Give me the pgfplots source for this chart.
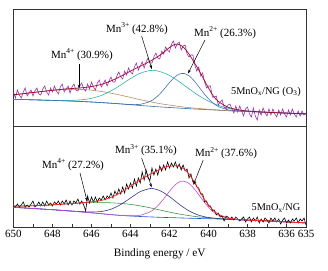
\documentclass[border=0pt]{standalone}
\usepackage{fontspec}
\setmainfont{Liberation Serif}
\usepackage{pgfplots}
\pgfplotsset{compat=1.18}
\usetikzlibrary{arrows.meta}
\definecolor{tdata}{HTML}{9B30B0}
\definecolor{tenv}{HTML}{A0102A}
\definecolor{tmnf}{HTML}{B89060}
\definecolor{tmnt}{HTML}{30B0B0}
\definecolor{tmnb}{HTML}{4070C0}
\definecolor{tbg}{HTML}{2F6F9F}
\definecolor{benv}{HTML}{FF2020}
\definecolor{bmnf}{HTML}{3A9A3A}
\definecolor{bmnt}{HTML}{33338F}
\definecolor{bmnb}{HTML}{C050D0}
\definecolor{bbg}{HTML}{2050D0}
\newcommand{\fs}{\fontsize{11}{13}\selectfont}
\newcommand{\chg}[1]{\raisebox{0.42em}{\fontsize{7.5}{8}\selectfont #1}}
\tikzset{
 ann/.style={font=\fs},
 arr/.style={-{Stealth[length=4pt,width=2.6pt]}, line width=0.5pt, black}
}
\begin{document}
\begin{tikzpicture}
\pgfplotsset{
 panel/.style={scale only axis, width=292.5pt, x dir=reverse, xmin=635, xmax=650, ymin=0,
   axis line style={color=black!80, line width=0.8pt}, ytick=\empty,
   tick label style={font=\fs},
   /pgf/number format/assume math mode=true},
 cv/.style={smooth, no markers, line width=0.6pt},
 dt/.style={no markers, line width=0.6pt}
}
% ---------------- top panel ----------------
\begin{axis}[panel, at={(13.5pt,144pt)}, anchor=south west, height=117pt, ymax=117, xtick=\empty]
\addplot[cv, tbg] coordinates {(650,26.7)(649.5,26.45)(649,26.2)(648.5,25.9)(648,25.6)(647.5,25.3)(647,25.0)(646.5,24.5)(646,24.0)(645.5,23.4)(645,22.8)(644.5,22.1)(644,21.3)(643.5,20.5)(643,19.8)(642.5,19.1)(642,18.5)(641.5,17.9)(641,17.3)(640.5,16.8)(640,16.3)(639.5,15.8)(639,15.3)(638.5,14.9)(638,14.5)(637.5,14.1)(637,13.7)(636.5,13.3)(636,12.9)(635.5,12.5)(635,12.1)};
\addplot[cv, tmnf] coordinates {(650,31.2)(649.5,32.3)(649,33.5)(648.5,34.6)(648,35.6)(647.5,36.4)(647,36.8)(646.5,36.5)(646,35.8)(645.5,34.5)(645,32.8)(644.5,30.8)(644,28.6)(643.5,26.3)(643,24.3)(642.5,22.4)(642,20.9)(641.5,19.5)(641,18.4)(640.5,17.5)(640,16.7)(639.5,16.0)(639,15.4)(638.5,14.9)(638,14.5)(637,13.7)(636,12.9)(635,12.1)};
\addplot[cv, tmnt] coordinates {(650,26.7)(649,26.2)(648,25.6)(647.5,25.4)(647,25.7)(646.5,26.2)(646,27.7)(645.5,30.5)(645,35.1)(644.5,41.0)(644,47.4)(643.5,52.8)(643,55.5)(642.8,55.6)(642.5,54.5)(642,50.5)(641.5,44.3)(641,37.2)(640.5,30.4)(640,24.8)(639.5,20.7)(639,17.8)(638.5,16.1)(638,15.0)(637.5,14.3)(637,13.7)(636,12.9)(635,12.1)};
\addplot[cv, tmnb] coordinates {(650,26.7)(648,25.6)(646,24.0)(644.5,22.1)(644,21.5)(643.5,21.7)(643,24.5)(642.75,27.6)(642.5,32.0)(642.25,37.5)(642,43.4)(641.75,48.6)(641.5,51.9)(641.25,52.5)(641,50.2)(640.75,45.5)(640.5,39.3)(640.25,32.9)(640,27.2)(639.75,22.7)(639.5,19.5)(639,16.2)(638.5,15.1)(638,14.5)(637,13.7)(636,12.9)(635,12.1)};
\addplot[dt, tdata] coordinates {(650.0,34)(649.9,28)(649.8,36)(649.7,31)(649.6,28)(649.5,34)(649.4,38)(649.3,30)(649.2,33)(649.1,36)(649.0,30)(648.9,35)(648.8,38)(648.7,32)(648.6,31)(648.5,37)(648.4,40)(648.3,34)(648.2,31)(648.1,38)(648.0,34)(647.9,40)(647.8,35)(647.7,32)(647.6,39)(647.5,42)(647.4,34)(647.3,37)(647.2,40)(647.1,33)(647.0,39)(646.9,42)(646.8,36)(646.7,35)(646.6,40)(646.5,43)(646.4,37)(646.3,35)(646.2,42)(646.1,37)(646.0,44)(645.9,39)(645.8,36)(645.7,43)(645.6,46)(645.5,39)(645.4,42)(645.3,46)(645.2,40)(645.1,45)(645.0,49)(644.9,44)(644.8,44)(644.7,50)(644.6,54)(644.5,49)(644.4,47)(644.3,55)(644.2,51)(644.1,58)(644.0,54)(643.9,52)(643.8,59)(643.7,63)(643.6,56)(643.5,60)(643.4,64)(643.3,58)(643.2,64)(643.1,68)(643.0,63)(642.9,63)(642.8,69)(642.7,73)(642.6,68)(642.5,67)(642.4,75)(642.3,72)(642.2,79)(642.1,76)(642.0,74)(641.9,82)(641.8,85)(641.7,78)(641.6,82)(641.5,84)(641.4,76)(641.3,80)(641.2,81)(641.1,72)(641.0,69)(640.9,71)(640.8,71)(640.7,61)(640.6,55)(640.5,59)(640.4,50)(640.3,53)(640.2,44)(640.1,38)(640.0,40)(639.9,40)(639.8,29)(639.7,29)(639.6,30)(639.5,21)(639.4,24)(639.3,26)(639.2,19)(639.1,17)(639.0,21)(638.9,22)(638.8,17)(638.7,13)(638.6,20)(638.5,14)(638.4,20)(638.3,15)(638.2,10)(638.1,17)(638.0,19)(637.9,12)(637.8,9)(637.7,18)(637.6,10)(637.5,6)(637.4,16)(637.3,11)(637.2,18)(637.1,13)(637.0,10)(636.9,17)(636.8,11)(636.7,17)(636.6,12)(636.5,9)(636.4,16)(636.3,11)(636.2,17)(636.1,12)(636.0,9)(635.9,16)(635.8,11)(635.7,17)(635.6,12)(635.5,9)(635.4,15)(635.3,10)(635.2,15)(635.1,11)(635.0,13)};
\addplot[cv, tenv, line width=0.75pt] coordinates {(650,31.2)(649.5,32.3)(649,33.5)(648.5,34.6)(648,35.7)(647.5,36.7)(647,37.5)(646.5,38.2)(646,39.5)(645.5,41.6)(645,45.1)(644.5,49.7)(644,54.9)(643.5,59.8)(643,64.7)(642.75,67.6)(642.5,70.7)(642.25,74.4)(642,78.5)(641.75,81.5)(641.5,81.5)(641.25,78)(641,72)(640.75,64)(640.5,56)(640.25,47)(640,38)(639.75,30)(639.5,24.6)(639,18.8)(638.5,16.3)(638,15.0)(637.5,14.3)(637,13.7)(636,12.9)(635,12.1)};
\node[ann] at (axis cs:646.49,71) {Mn\chg{4+} (30.9\%)};
\draw[arr] (axis cs:646.64,62) -- (axis cs:646.64,37.5);
\node[ann] at (axis cs:643.67,97) {Mn\chg{3+} (42.8\%)};
\draw[arr] (axis cs:643.43,90) -- (axis cs:642.91,57);
\node[ann] at (axis cs:639.15,93) {Mn\chg{2+} (26.3\%)};
\draw[arr] (axis cs:640.18,86) -- (axis cs:641.05,52.5);
\node[font=\fontsize{10.3}{12}\selectfont] at (axis cs:637.05,34) {5MnO\textsubscript{x}/NG (O\textsubscript{3})};
\end{axis}
% ---------------- bottom panel ----------------
\begin{axis}[panel, at={(13.5pt,43pt)}, anchor=south west, height=101pt, ymax=101,
  xtick={635,636,637,638,639,640,641,642,643,644,645,646,647,648,649,650},
  xticklabels={635,636,,638,,640,,642,,644,,646,,648,,650},
  xtick pos=left, tick align=inside, major tick length=3pt,
  tick style={color=black!80, line width=0.6pt},
  xlabel={Binding energy / eV},
  xlabel style={font=\fontsize{11.3}{13}\selectfont, yshift=-4pt}]
\addplot[cv, bbg] coordinates {(650,19.7)(649.5,19.1)(649,18.5)(648.5,17.9)(648,17.3)(647.5,16.6)(647,15.9)(646.5,15.1)(646,14.2)(645.5,13.3)(645,12.4)(644.5,11.6)(644,11.0)(643.5,10.5)(643,10.1)(642.5,9.7)(642,9.4)(641.5,9.1)(641,8.8)(640.5,8.5)(640,8.3)(639.5,8.0)(639,7.7)(638.5,7.3)(638,6.9)(637.5,6.5)(637,6.1)(636.5,5.6)(636,5.1)(635.5,4.6)(635,4.1)};
\addplot[cv, bmnf] coordinates {(650,21.0)(649.5,21.0)(649,21.2)(648.5,21.6)(648,22.1)(647.5,22.8)(647,23.5)(646.5,24.0)(646,24.4)(645.5,24.4)(645,24.2)(644.5,23.6)(644,22.6)(643.5,21.1)(643,19.2)(642.5,17.0)(642,14.9)(641.5,13.0)(641,11.4)(640.5,10.1)(640,9.3)(639.5,8.5)(639,8.0)(638.5,7.4)(638,6.9)(637,6.1)(636,5.1)(635,4.1)};
\addplot[cv, bmnt] coordinates {(650,19.7)(648,17.3)(647,15.9)(646.5,15.3)(646,15.0)(645.5,15.5)(645,17.8)(644.5,22.5)(644,29.0)(643.5,35.4)(643,38.5)(642.9,38.6)(642.5,36.5)(642,30.4)(641.5,22.7)(641,16.1)(640.5,11.8)(640,9.5)(639.5,8.4)(639,7.7)(638,6.9)(637,6.1)(636,5.1)(635,4.1)};
\addplot[cv, bmnb] coordinates {(650,19.7)(648,17.3)(646,14.2)(645,12.4)(644.5,11.6)(644,11.2)(643.5,11.8)(643,15.1)(642.75,18.5)(642.5,23.4)(642.25,29.35)(642,35.7)(641.75,41.45)(641.5,45.1)(641.3,46.0)(641,43.6)(640.75,38.65)(640.5,32.3)(640.25,25.6)(640,19.8)(639.75,15.15)(639.5,11.9)(639,8.7)(638.5,7.5)(638,6.9)(637,6.1)(636,5.1)(635,4.1)};
\addplot[dt, black] coordinates {(650.0,21)(649.9,20)(649.8,23)(649.7,20)(649.6,22)(649.5,25)(649.4,20)(649.3,22)(649.2,20)(649.1,23)(649.0,26)(648.9,20)(648.8,22)(648.7,25)(648.6,21)(648.5,25)(648.4,21)(648.3,26)(648.2,22)(648.1,24)(648.0,21)(647.9,25)(647.8,23)(647.7,26)(647.6,22)(647.5,26)(647.4,23)(647.3,27)(647.2,22)(647.1,26)(647.0,22)(646.9,26)(646.8,24)(646.7,28)(646.6,23)(646.5,26)(646.4,22)(646.3,16)(646.2,31)(646.1,24)(646.0,30)(645.9,25)(645.8,30)(645.7,25)(645.6,29)(645.5,27)(645.4,31)(645.3,27)(645.2,31)(645.1,29)(645.0,34)(644.9,29)(644.8,36)(644.7,32)(644.6,38)(644.5,33)(644.4,40)(644.3,34)(644.2,43)(644.1,38)(644.0,44)(643.9,39)(643.8,48)(643.7,41)(643.6,49)(643.5,44)(643.4,55)(643.3,47)(643.2,57)(643.1,49)(643.0,47)(642.9,59)(642.8,52)(642.7,58)(642.6,52)(642.5,61)(642.4,56)(642.3,62)(642.2,57)(642.1,65)(642.0,59)(641.9,64)(641.8,60)(641.7,65)(641.6,59)(641.5,63)(641.4,57)(641.3,62)(641.2,56)(641.1,58)(641.0,49)(640.9,53)(640.8,45)(640.7,46)(640.6,40)(640.5,39)(640.4,33)(640.3,33)(640.2,25)(640.1,26)(640.0,21)(639.9,21)(639.8,16)(639.7,17)(639.6,12)(639.5,14)(639.4,10)(639.3,11)(639.2,6)(639.1,11)(639.0,10)(638.9,8)(638.8,10)(638.7,7)(638.6,10)(638.5,8)(638.4,6)(638.3,8)(638.2,10)(638.1,5)(638.0,8)(637.9,10)(637.8,5)(637.7,9)(637.6,6)(637.5,10)(637.4,4)(637.3,8)(637.2,5)(637.1,9)(637.0,7)(636.9,4)(636.8,9)(636.7,6)(636.6,9)(636.5,5)(636.4,8)(636.3,3)(636.2,7)(636.1,9)(636.0,4)(635.9,7)(635.8,4)(635.7,8)(635.6,6)(635.5,9)(635.4,4)(635.3,8)(635.2,6)(635.1,9)(635.0,2)};
\addplot[cv, benv, line width=0.75pt] coordinates {(650,21.0)(649.5,21.0)(649,21.2)(648.5,21.6)(648,22.1)(647.5,22.8)(647,23.5)(646.5,24.2)(646,25.2)(645.5,26.6)(645,29.6)(644.5,34.5)(644,40.8)(643.5,47.3)(643,52.6)(642.75,55.0)(642.5,57.5)(642.25,59.8)(642,60.8)(641.75,61.3)(641.5,60.8)(641.25,58.0)(641,53.0)(640.75,45.5)(640.5,37.2)(640.25,28.9)(640,22.0)(639.75,16.6)(639.5,12.8)(639,9.0)(638.5,7.6)(638,6.9)(637,6.1)(636,5.1)(635,4.1)};
\node[ann] at (axis cs:646.95,62) {Mn\chg{4+} (27.2\%)};
\draw[arr] (axis cs:646.59,54) -- (axis cs:646.22,25.5);
\node[ann] at (axis cs:643.21,77) {Mn\chg{3+} (35.1\%)};
\draw[arr] (axis cs:643.43,69) -- (axis cs:642.91,39.5);
\node[ann] at (axis cs:639.1,74) {Mn\chg{2+} (37.6\%)};
\draw[arr] (axis cs:640.27,67) -- (axis cs:640.78,42);
\node[font=\fontsize{10.3}{12}\selectfont] at (axis cs:636.54,19) {5MnO\textsubscript{x}/NG};
\end{axis}
\pgfresetboundingbox
\path (0pt,0pt) rectangle (328pt,270pt);
\end{tikzpicture}
\end{document}
